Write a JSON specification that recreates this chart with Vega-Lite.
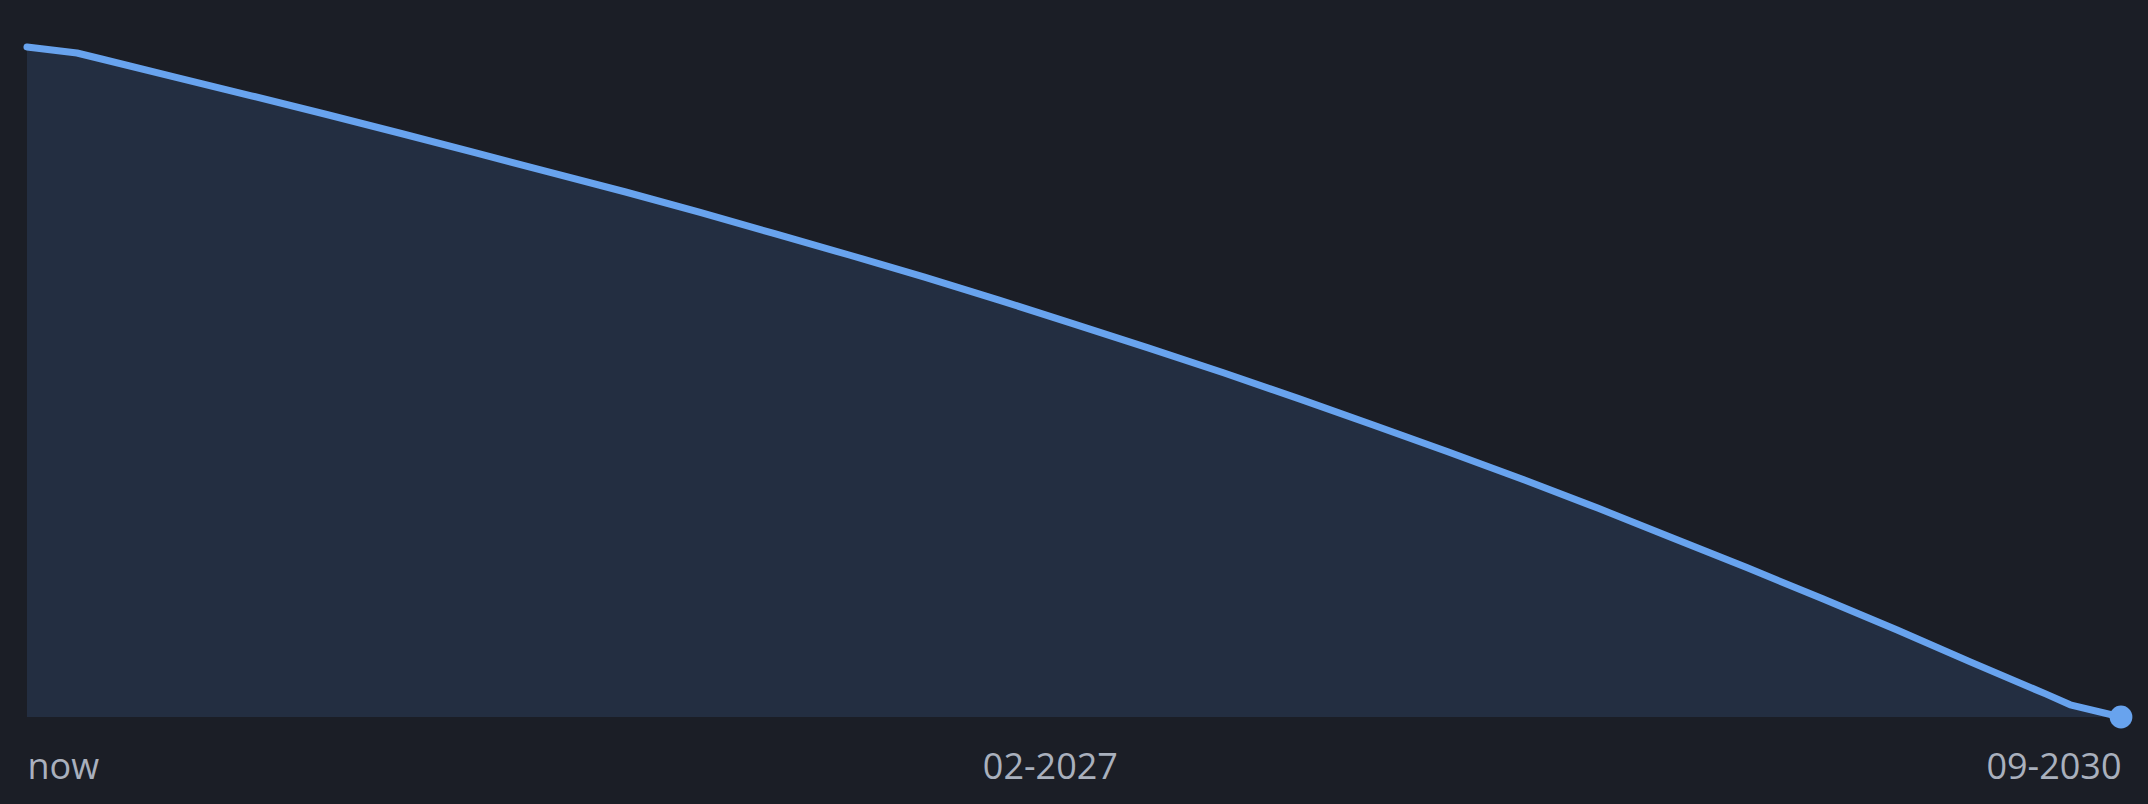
{
  "$schema": "https://vega.github.io/schema/vega-lite/v6.json",
  "description": "Projected balance from now until it is paid off",
  "autosize": {"type": "none"},
  "width": 2094,
  "height": 717,
  "padding": {"left": 27, "right": 27, "top": 0, "bottom": 87},
  "background": "#1b1e26",
  "config": {"view": {"stroke": null}},
  "data": {
    "values": [
      {"date": "2023-09-01", "balance": 670},
      {"date": "2023-11-01", "balance": 664},
      {"date": "2023-12-01", "balance": 658},
      {"date": "2024-03-01", "balance": 639.6},
      {"date": "2024-06-01", "balance": 621.2},
      {"date": "2024-09-01", "balance": 602.5},
      {"date": "2024-12-01", "balance": 583.5},
      {"date": "2025-03-01", "balance": 564.3},
      {"date": "2025-06-01", "balance": 544.7},
      {"date": "2025-09-01", "balance": 525},
      {"date": "2025-12-01", "balance": 504.6},
      {"date": "2026-03-01", "balance": 483.6},
      {"date": "2026-06-01", "balance": 462},
      {"date": "2026-09-01", "balance": 439.8},
      {"date": "2026-12-01", "balance": 416.9},
      {"date": "2027-03-01", "balance": 393.4},
      {"date": "2027-06-01", "balance": 369.1},
      {"date": "2027-09-01", "balance": 344.3},
      {"date": "2027-12-01", "balance": 318.6},
      {"date": "2028-03-01", "balance": 292.3},
      {"date": "2028-06-01", "balance": 265.3},
      {"date": "2028-09-01", "balance": 237.5},
      {"date": "2028-12-01", "balance": 208.9},
      {"date": "2029-03-01", "balance": 179.5},
      {"date": "2029-06-01", "balance": 149.4},
      {"date": "2029-09-01", "balance": 118.5},
      {"date": "2029-12-01", "balance": 87.2},
      {"date": "2030-03-01", "balance": 55.1},
      {"date": "2030-06-01", "balance": 23.1},
      {"date": "2030-07-01", "balance": 12.2},
      {"date": "2030-09-01", "balance": 0}
    ]
  },
  "encoding": {
    "x": {
      "field": "date",
      "type": "temporal",
      "scale": {
        "type": "utc",
        "domain": [
          {"year": 2023, "month": 9, "date": 1, "utc": true},
          {"year": 2030, "month": 9, "date": 1, "utc": true}
        ]
      },
      "axis": {
        "title": null,
        "values": [
          {"year": 2023, "month": 9, "date": 1, "utc": true},
          {"year": 2027, "month": 2, "date": 1, "utc": true},
          {"year": 2030, "month": 9, "date": 1, "utc": true}
        ],
        "labelExpr": "datum.value < utc(2024, 0, 1) ? 'now' : utcFormat(datum.value, '%m-%Y')",
        "labelFlush": true,
        "labelFont": "Open Sans",
        "labelFontSize": 36,
        "labelColor": "#a9b0bd",
        "labelPadding": 33,
        "ticks": false,
        "domain": false,
        "grid": false
      }
    },
    "y": {
      "field": "balance",
      "type": "quantitative",
      "scale": {"domain": [0, 717], "nice": false},
      "axis": null
    }
  },
  "layer": [
    {"mark": {"type": "area", "color": "#232e41", "opacity": 1}},
    {
      "mark": {
        "type": "line",
        "color": "#68a3ee",
        "strokeWidth": 7,
        "strokeCap": "round",
        "strokeJoin": "round"
      }
    },
    {
      "transform": [{"filter": "datum.balance == 0"}],
      "mark": {"type": "point", "filled": true, "opacity": 1, "color": "#68a3ee", "size": 520}
    }
  ]
}
